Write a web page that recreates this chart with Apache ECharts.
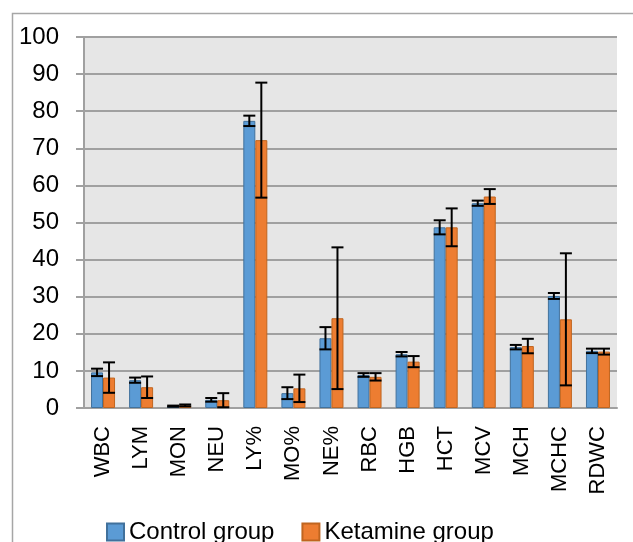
<!DOCTYPE html>
<html>
<head>
<meta charset="utf-8">
<script src="https://cdn.jsdelivr.net/npm/echarts@6/dist/echarts.min.js"></script>
<style>
  html, body { margin: 0; padding: 0; background: #fff; }
  #main { width: 633px; height: 542px; }
</style>
</head>
<body>
<div id="main"></div>
<script>
// categories and values
var categories = ['WBC', 'LYM', 'MON', 'NEU', 'LY%', 'MO%', 'NE%', 'RBC', 'HGB', 'HCT', 'MCV', 'MCH', 'MCHC', 'RDWC'];
var controlMean = [9.6, 7.5, 0.5, 2.2, 77.4, 4.0, 18.8, 8.9, 14.5, 48.7, 55.2, 16.4, 30.2, 15.4];
var controlSd = [1.0, 0.7, 0.15, 0.5, 1.4, 1.6, 3.0, 0.5, 0.6, 1.9, 0.7, 0.6, 0.8, 0.6];
var ketamineMean = [8.2, 5.6, 0.7, 2.1, 72.2, 5.3, 24.2, 8.4, 12.5, 48.7, 57.0, 16.7, 23.9, 15.2];
var ketamineSd = [4.1, 2.9, 0.25, 1.9, 15.5, 3.7, 19.1, 1.0, 1.5, 5.1, 2.0, 1.95, 17.8, 0.8];
var yTicks = [0, 10, 20, 30, 40, 50, 60, 70, 80, 90, 100];

var BAR_W = 12;

function errData(mean, sd) {
    return mean.map(function(m, i) {
        return [i, m - sd[i], m + sd[i]];
    });
}

// 误差线
function errRender(offset) {
    return function(params, api) {
        var idx = api.value(0);
        var x = api.coord([idx, 0])[0] + offset;
        var lo = api.coord([idx, api.value(1)])[1];
        var hi = api.coord([idx, api.value(2)])[1];
        var half = BAR_W / 2;
        var st = { stroke: '#000', lineWidth: 2 };
        return {
            type: 'group',
            children: [
                { type: 'line', shape: { x1: x, y1: hi, x2: x, y2: lo }, style: st },
                { type: 'line', shape: { x1: x - half, y1: hi, x2: x + half, y2: hi }, style: st },
                { type: 'line', shape: { x1: x - half, y1: lo, x2: x + half, y2: lo }, style: st }
            ]
        };
    };
}

var myChart = echarts.init(document.getElementById('main'));

var option = {
    animation: false,
    textStyle: { fontFamily: 'Liberation Sans' },
    graphic: [
        {
            type: 'rect',
            left: 10, top: 11,
            shape: { width: 700, height: 600 },
            style: { fill: 'none', stroke: '#a6a6a6', lineWidth: 1.5 },
            silent: true
        }
    ],
    legend: {
        data: ['Control group', 'Ketamine group'],
        left: 101,
        top: 515,
        icon: 'rect',
        itemWidth: 17,
        itemHeight: 17,
        itemGap: 27,
        textStyle: { fontSize: 24, color: '#000', fontFamily: 'Liberation Sans' }
    },
    grid: {
        left: 84,
        top: 37,
        right: 16,
        bottom: 134,
        show: true,
        backgroundColor: '#e6e6e6',
        borderWidth: 0
    },
    xAxis: {
        type: 'category',
        data: categories,
        axisLine: { lineStyle: { color: '#a0a0a0', width: 2 } },
        axisTick: { length: 8, lineStyle: { color: '#a0a0a0', width: 2 } },
        axisLabel: {
            rotate: 90,
            margin: 18,
            fontSize: 22,
            color: '#000',
            interval: 0
        }
    },
    yAxis: {
        type: 'value',
        min: yTicks[0],
        max: yTicks[yTicks.length - 1],
        interval: 10,
        axisLine: { show: true, lineStyle: { color: '#a0a0a0', width: 2 } },
        axisTick: { show: true, length: 8, lineStyle: { color: '#a0a0a0', width: 2 } },
        axisLabel: { fontSize: 24, color: '#000', margin: 25 },
        splitLine: { lineStyle: { color: '#a0a0a0', width: 2 } }
    },
    series: [
        {
            name: 'Control group',
            type: 'bar',
            data: controlMean,
            barWidth: BAR_W,
            barGap: '0%',
            itemStyle: { color: '#5b9bd5', borderColor: '#41719c', borderWidth: 1 }
        },
        {
            name: 'Ketamine group',
            type: 'bar',
            data: ketamineMean,
            barWidth: BAR_W,
            barGap: '0%',
            itemStyle: { color: '#ed7d31', borderColor: '#c0651f', borderWidth: 1 }
        },
        {
            name: 'controlErr',
            type: 'custom',
            renderItem: errRender(-BAR_W / 2),
            data: errData(controlMean, controlSd),
            encode: { x: 0, y: [1, 2] },
            z: 10,
            silent: true
        },
        {
            name: 'ketamineErr',
            type: 'custom',
            renderItem: errRender(BAR_W / 2),
            data: errData(ketamineMean, ketamineSd),
            encode: { x: 0, y: [1, 2] },
            z: 10,
            silent: true
        }
    ]
};

myChart.setOption(option);
</script>
</body>
</html>
